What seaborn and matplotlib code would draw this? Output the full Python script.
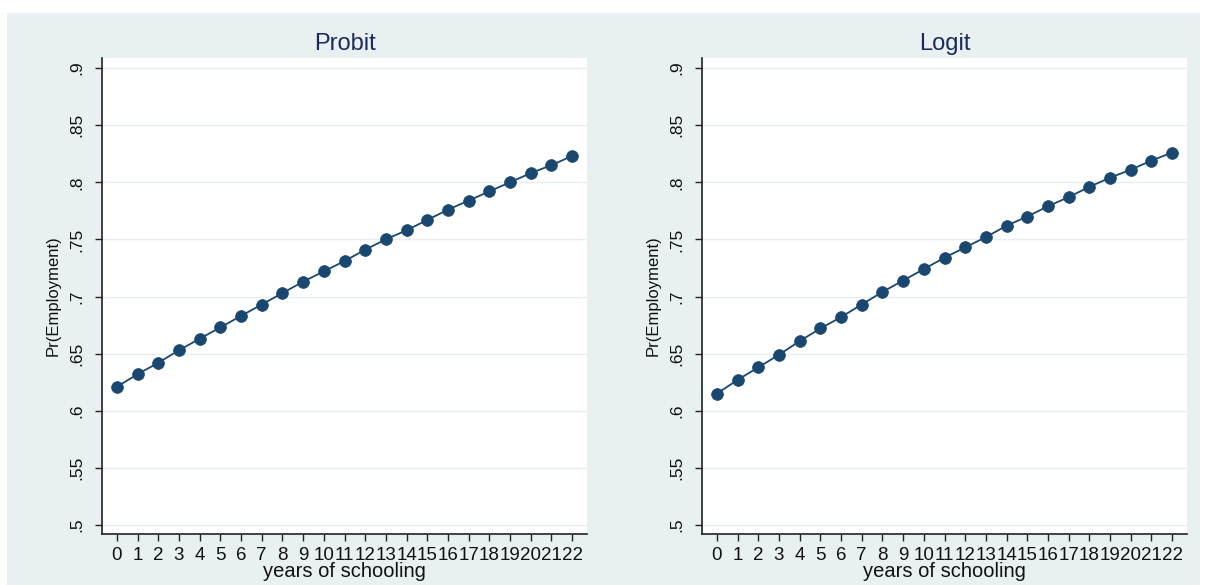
import numpy as np
import pandas as pd
import matplotlib
matplotlib.use("Agg")
import matplotlib.pyplot as plt
from matplotlib.patches import Rectangle
import seaborn as sns

# values
years = list(range(23))
probit = [0.621, 0.632, 0.642, 0.653, 0.663, 0.673, 0.683, 0.693, 0.703, 0.713,
          0.722, 0.731, 0.741, 0.750, 0.758, 0.767, 0.776, 0.784, 0.792, 0.800,
          0.808, 0.815, 0.823]
logit = [0.615, 0.627, 0.638, 0.649, 0.661, 0.672, 0.682, 0.693, 0.704, 0.714,
         0.724, 0.734, 0.743, 0.752, 0.762, 0.770, 0.779, 0.787, 0.796, 0.804,
         0.811, 0.819, 0.826]
titles = ["Probit", "Logit"]
ytick_vals = [0.5, 0.55, 0.6, 0.65, 0.7, 0.75, 0.8, 0.85, 0.9]
ytick_labels = [".5", ".55", ".6", ".65", ".7", ".75", ".8", ".85", ".9"]

sns.set_theme(style="white")
plt.rcParams["font.family"] = ["Liberation Sans", "DejaVu Sans"]

bg = "#e8f0f2"
navy = "#1a476f"
title_col = "#1c2b58"

fig = plt.figure(figsize=(12.08, 5.85), dpi=100, facecolor="white")
fig.patches.append(Rectangle((7 / 1208, 0), 1193 / 1208, 572 / 585,
                             transform=fig.transFigure, facecolor=bg,
                             edgecolor="none", zorder=-10))

positions = [[102 / 1208, 51 / 585, 485 / 1208, 476 / 585],
             [702 / 1208, 51 / 585, 485 / 1208, 476 / 585]]

for pos, title, vals in zip(positions, titles, [probit, logit]):
    ax = fig.add_axes(pos)
    ax.set_facecolor("white")
    df = pd.DataFrame({"years": years, "pr": vals})
    sns.lineplot(data=df, x="years", y="pr", ax=ax, color=navy, lw=1.3,
                 marker="o", markersize=8.5, markeredgecolor=navy,
                 markeredgewidth=0.5, zorder=3)
    ax.set_xlim(-0.72, 22.72)
    ax.set_ylim(0.4921, 0.9088)
    ax.set_xticks(years)
    ax.set_xticklabels([str(y) for y in years])
    ax.set_yticks(ytick_vals)
    ax.set_yticklabels(ytick_labels, rotation=90, va="center")
    ax.grid(axis="y", color="#e6eef1", lw=1.0, zorder=0)
    ax.grid(axis="x", visible=False)
    for s in ["top", "right"]:
        ax.spines[s].set_visible(False)
    for s in ["left", "bottom"]:
        ax.spines[s].set_color("#222222")
        ax.spines[s].set_linewidth(1.2)
    ax.tick_params(axis="both", direction="out", length=5, width=1,
                   color="#222222", labelcolor="#111111",
                   left=True, bottom=True)
    ax.tick_params(axis="y", pad=8, labelsize=12.5)
    ax.tick_params(axis="x", pad=4, labelsize=13.5)
    ax.set_xlabel("years of schooling", fontsize=14.5, color="#111111",
                  labelpad=-1)
    ax.set_ylabel("Pr(Employment)", fontsize=12, color="#111111",
                  labelpad=6)
    ax.set_title(title, fontsize=17, color=title_col, pad=6)

fig.savefig("out.png", dpi=100, facecolor="white")
